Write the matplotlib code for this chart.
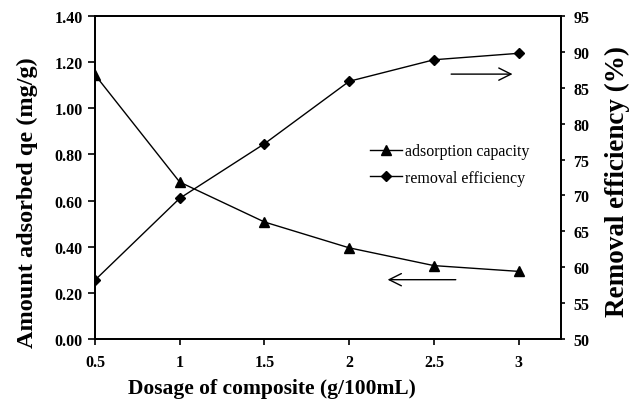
import matplotlib
matplotlib.use("Agg")
import matplotlib.pyplot as plt

plt.rcParams['font.family'] = ['Liberation Serif', 'DejaVu Serif']

dosage = [0.5, 1.0, 1.5, 2.0, 2.5, 3.0]
adsorption_capacity = [1.145, 0.68, 0.507, 0.395, 0.318, 0.293]
removal_efficiency = [58.2, 69.6, 77.2, 85.9, 88.9, 89.8]

x_ticks = [0.5, 1, 1.5, 2, 2.5, 3]
x_tick_labels = ['0.5', '1', '1.5', '2', '2.5', '3']
left_ticks = [0.0, 0.2, 0.4, 0.6, 0.8, 1.0, 1.2, 1.4]
right_ticks = [50, 55, 60, 65, 70, 75, 80, 85, 90, 95]

fig = plt.figure(figsize=(6.34, 4.06), dpi=100)
ax = fig.add_axes([0.1498, 0.1626, 0.7352, 0.7956])
ax2 = ax.twinx()

l1, = ax.plot(dosage, adsorption_capacity, color='black', lw=1.0, marker='^',
              markersize=7, label='adsorption capacity')
l2, = ax2.plot(dosage, removal_efficiency, color='black', lw=1.0, marker='D',
               markersize=5.5, label='removal efficiency')

ax.set_xlim(0.5, 3.25)
ax.set_ylim(0, 1.4)
ax2.set_ylim(50, 95)

ax.set_xticks(x_ticks)
ax.set_xticklabels(x_tick_labels)
ax.set_yticks(left_ticks)
ax.set_yticklabels([f'{v:.2f}' for v in left_ticks])
ax2.set_yticks(right_ticks)
ax2.set_yticklabels([str(v) for v in right_ticks])

for a in (ax, ax2):
    for s in a.spines.values():
        s.set_linewidth(1.3)
    a.tick_params(direction='out', width=1.2, labelsize=11.5)
    for lab in a.get_xticklabels() + a.get_yticklabels():
        lab.set_fontweight('bold')
ax.tick_params(axis='y', length=5, pad=4)
ax.tick_params(axis='x', length=4, pad=7)
ax2.tick_params(axis='y', length=3, pad=6)

ax.set_xlabel('Dosage of composite (g/100mL)', fontsize=15.5, fontweight='bold')
ax.xaxis.set_label_coords(0.38, -0.12)
ax.set_ylabel('Amount adsorbed qe (mg/g)', fontsize=17.5, fontweight='bold')
ax.yaxis.set_label_coords(-0.123, 0.425)
ax2.set_ylabel('Removal efficiency (%)', fontsize=19.5, fontweight='bold')
ax2.yaxis.set_label_coords(1.094, 0.49)

# arrows
ax2.annotate('', xy=(2.98, 86.9), xytext=(2.585, 86.9),
             arrowprops=dict(arrowstyle='->', color='black', lw=1.0, mutation_scale=22))
ax.annotate('', xy=(2.21, 0.257), xytext=(2.645, 0.257),
            arrowprops=dict(arrowstyle='->', color='black', lw=1.0, mutation_scale=22))

leg = ax.legend(handles=[l1, l2], loc='upper left', bbox_to_anchor=(0.577, 0.625),
                frameon=False, fontsize=11.5, handlelength=2.0, handletextpad=0.2,
                labelspacing=0.65, borderaxespad=0)

fig.savefig('out.png', dpi=100)
